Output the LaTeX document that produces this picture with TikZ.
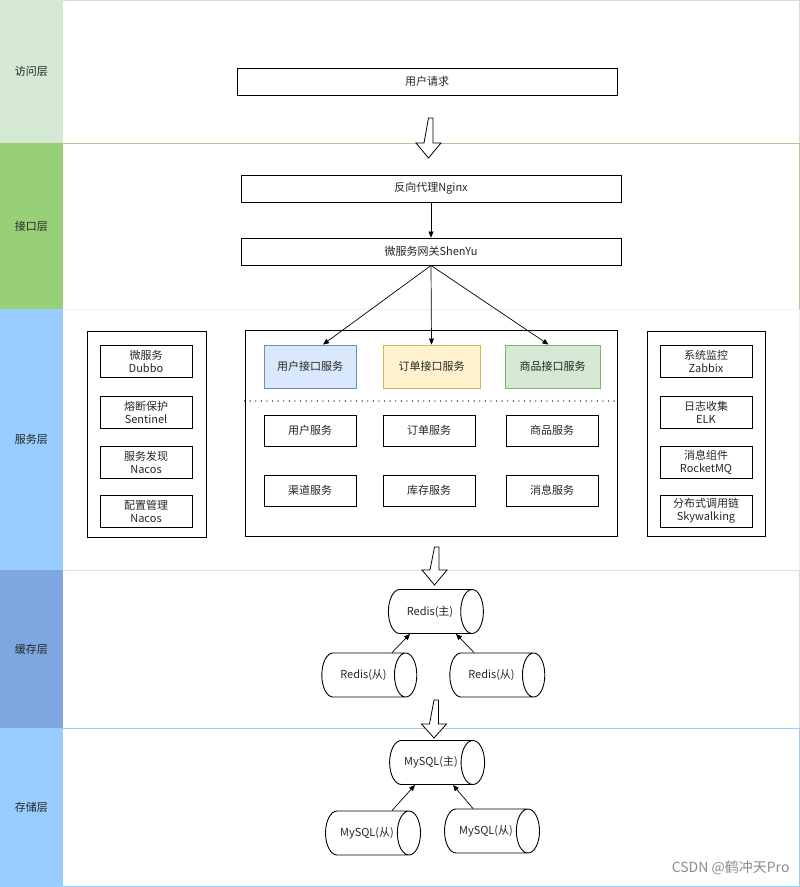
\documentclass[tikz,border=0pt]{standalone}
\usepackage{fontspec}
\setmainfont{Noto Sans CJK SC}
\usetikzlibrary{shapes.geometric,arrows.meta}
\definecolor{accessfill}{HTML}{D5E8D4}
\definecolor{apifill}{HTML}{97D077}
\definecolor{svcfill}{HTML}{99CCFF}
\definecolor{cachefill}{HTML}{7EA6E0}
\definecolor{userfill}{HTML}{DAE8FC}
\definecolor{userline}{HTML}{6C8EBF}
\definecolor{orderfill}{HTML}{FFF2CC}
\definecolor{orderline}{HTML}{D6B656}
\definecolor{goodsline}{HTML}{82B366}
\begin{document}
\begin{tikzpicture}[x=1pt,y=-1pt,
    every node/.style={font=\fontsize{11}{13}\selectfont, text=black!85},
    wide/.style={draw, line width=0.9pt, minimum width=380pt, minimum height=27pt, inner sep=0pt},
    group/.style={draw, line width=0.9pt, inner sep=0pt},
    item/.style={draw, line width=0.9pt, minimum width=92pt, minimum height=32pt, inner sep=0pt, align=center},
    iface/.style={draw, line width=0.9pt, minimum height=43pt, inner sep=0pt},
    db/.style={draw, line width=0.9pt, cylinder, aspect=2, minimum height=95pt, minimum width=44pt, inner sep=0pt},
    link/.style={-{Triangle[length=6pt,width=5pt]}, line width=0.7pt},
    hollow/.style={draw, line width=0.8pt, fill=white}]
  \useasboundingbox (0,0) rectangle (800,887);
  \draw[draw=black!15] (0,0) rectangle (799,143);
  \fill[accessfill] (0,0) rectangle (63,143);
  \draw[draw=goodsline!70] (0,143) rectangle (799,309);
  \fill[apifill] (0,143) rectangle (63,309);
  \draw[draw=userfill!80!black!20] (0,309) rectangle (799,570);
  \fill[svcfill] (0,309) rectangle (63,570);
  \draw[draw=svcfill!60!black!25] (0,570) rectangle (799,728);
  \fill[cachefill] (0,570) rectangle (63,728);
  \draw[draw=svcfill] (0,728) rectangle (799,886);
  \fill[svcfill] (0,728) rectangle (63,886);
  \node (access) at (31.5,71.5) {访问层};
  \node (api) at (31.5,226) {接口层};
  \node (service) at (31.5,439) {服务层};
  \node (cache) at (31.5,649) {缓存层};
  \node (storage) at (31.5,807) {存储层};

  \node[wide] (request) at (427,81.5) {用户请求};
  \draw[hollow] (428.5,118) -- ++(4.5,0) -- ++(0,25) -- ++(8,0) -- ++(-12.5,15) -- ++(-12.5,-15) -- ++(8,0) -- cycle;
  \node[wide] (nginx) at (431,188.5) {反向代理Nginx};
  \node[wide] (gateway) at (431,251.5) {微服务网关ShenYu};
  \draw[link] (nginx) -- (gateway);

  \node[group, minimum width=119pt, minimum height=206pt] (infra) at (146.5,434) {};
  \node[item] (dubbo) at (146,361) {微服务\\Dubbo};
  \node[item] (sentinel) at (146,412) {熔断保护\\Sentinel};
  \node[item] (discovery) at (146,462) {服务发现\\Nacos};
  \node[item] (config) at (146,511) {配置管理\\Nacos};

  \node[group, minimum width=372pt, minimum height=206pt] (business) at (431,433) {};
  \draw[line width=1.4pt, line cap=round, dash pattern=on 0pt off 5.6pt] (business.west |- 0,401) -- (business.east |- 0,401);
  \node[iface, fill=userfill, draw=userline, minimum width=92pt] (userapi) at (310,366.5) {用户接口服务};
  \node[iface, fill=orderfill, draw=orderline, minimum width=97pt] (orderapi) at (431.5,366.5) {订单接口服务};
  \node[iface, fill=accessfill, draw=goodsline, minimum width=95pt] (goodsapi) at (552.5,366.5) {商品接口服务};
  \draw[link] (gateway.south) -- ([xshift=13pt]userapi.north);
  \draw[link] (gateway.south) -- (orderapi.north);
  \draw[link] (gateway.south) -- ([xshift=-4pt]goodsapi.north);
  \node[item, minimum height=31pt] (user) at (310,430.5) {用户服务};
  \node[item, minimum height=31pt] (order) at (429,430.5) {订单服务};
  \node[item, minimum height=31pt] (goods) at (552,430.5) {商品服务};
  \node[item, minimum height=31pt] (channel) at (310,490.5) {渠道服务};
  \node[item, minimum height=31pt] (stock) at (429,490.5) {库存服务};
  \node[item, minimum height=31pt] (message) at (552,490.5) {消息服务};

  \node[group, minimum width=118pt, minimum height=205pt] (ops) at (706,433.5) {};
  \node[item] (zabbix) at (706,361) {系统监控\\Zabbix};
  \node[item] (elk) at (706,412) {日志收集\\ELK};
  \node[item] (rocketmq) at (706,462) {消息组件\\RocketMQ};
  \node[item] (skywalking) at (706,511) {分布式调用链\\Skywalking};

  \draw[hollow] (434.5,547) -- ++(4.5,0) -- ++(0,23) -- ++(8,0) -- ++(-12.5,15) -- ++(-12.5,-15) -- ++(8,0) -- cycle;
  \node[db] (redismaster) at (430,611.5) {Redis(主)};
  \node[db] (redisslave1) at (363.5,675) {Redis(从)};
  \node[db] (redisslave2) at (491.5,675) {Redis(从)};
  \draw[link] ([xshift=28.5pt]redisslave1.north) -- ([xshift=-20pt]redismaster.south);
  \draw[link] ([xshift=-17.5pt]redisslave2.north) -- ([xshift=26pt]redismaster.south);

  \draw[hollow] (434,700) -- ++(4.5,0) -- ++(0,24) -- ++(8,0) -- ++(-12.5,14) -- ++(-12.5,-14) -- ++(8,0) -- cycle;
  \node[db] (mysqlmaster) at (431,762.5) {MySQL(主)};
  \node[db] (mysqlslave1) at (367,833) {MySQL(从)};
  \node[db] (mysqlslave2) at (486,831) {MySQL(从)};
  \draw[link] ([xshift=25pt]mysqlslave1.north) -- ([xshift=-16pt]mysqlmaster.south);
  \draw[link] ([xshift=-13pt]mysqlslave2.north) -- ([xshift=22pt]mysqlmaster.south);

  \node[anchor=east, font=\fontsize{14}{16}\selectfont, text=black!45] (mark) at (793,868) {CSDN @鹤冲天Pro};
\end{tikzpicture}
\end{document}
